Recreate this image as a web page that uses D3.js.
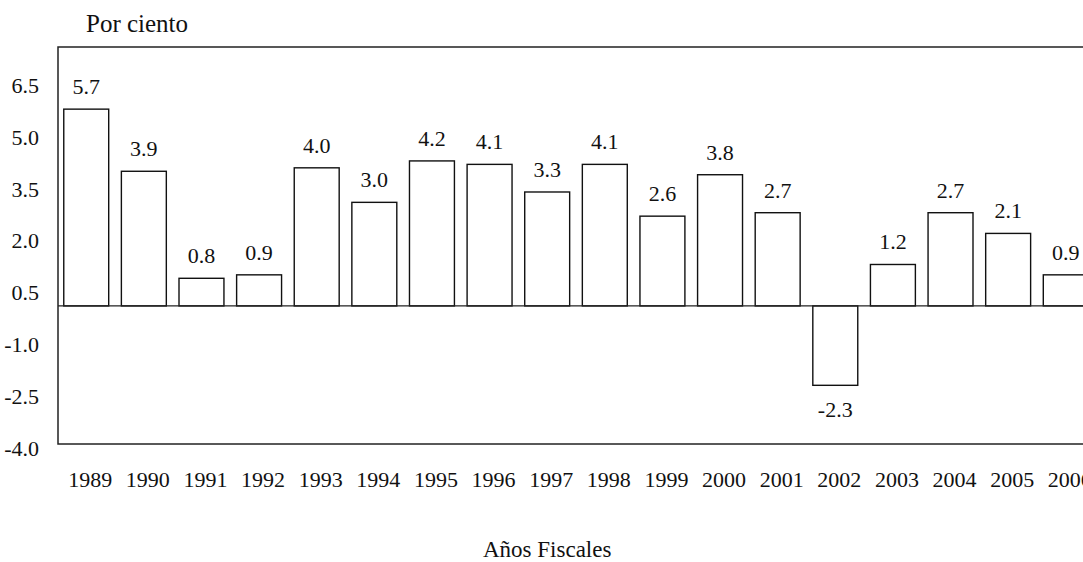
<!DOCTYPE html>
<html>
<head>
<meta charset="utf-8">
<script src="https://cdn.jsdelivr.net/npm/d3@7"></script>
<style>
  html, body { margin: 0; padding: 0; background: #fff; }
  svg text { font-family: "Liberation Serif", "DejaVu Serif", serif; fill: #111; }
</style>
</head>
<body>
<div id="chart"></div>
<script>
// data
const years = ["1989", "1990", "1991", "1992", "1993", "1994", "1995", "1996", "1997",
               "1998", "1999", "2000", "2001", "2002", "2003", "2004", "2005", "2006"];
const growth = [5.7, 3.9, 0.8, 0.9, 4.0, 3.0, 4.2, 4.1, 3.3,
                4.1, 2.6, 3.8, 2.7, -2.3, 1.2, 2.7, 2.1, 0.9];
const yTicks = [6.5, 5.0, 3.5, 2.0, 0.5, -1.0, -2.5, -4.0];

(function () {
    const width = 1083, height = 562;
    const m = { t: 47, r: -11, b: 118, l: 58 };
    const fmt = d => d.toFixed(1); // plain hyphen for negatives, as in the scan

    const svg = d3.select("#chart").append("svg").attr("width", width).attr("height", height);

    const x = d3.scaleBand().domain(years).range([m.l, width - m.r]).paddingInner(0.22).paddingOuter(0.1);
    const y = d3.scaleLinear().domain([-4, 7.5]).range([height - m.b, m.t]);

    // frame (right edge runs past the window, like the reference)
    svg.append("rect")
        .attr("x", m.l).attr("y", m.t)
        .attr("width", width - m.r - m.l).attr("height", height - m.b - m.t)
        .attr("fill", "none").attr("stroke", "#222").attr("stroke-width", 1.5);

    // y axis: labels only
    const yAxis = svg.append("g").attr("transform", `translate(${m.l - 16},0)`)
        .call(d3.axisLeft(y).tickValues(yTicks).tickFormat(fmt).tickSize(0));
    yAxis.select(".domain").remove();
    yAxis.selectAll("text").attr("font-size", 22).attr("font-family", "Liberation Serif")
        .attr("dy", "0.5em").attr("fill", "#111");

    // bars
    svg.selectAll("rect.bar")
        .data(growth).enter().append("rect").attr("class", "bar")
        .attr("x", (d, i) => x(years[i]))
        .attr("y", d => y(Math.max(0, d)))
        .attr("width", x.bandwidth())
        .attr("height", d => Math.abs(y(d) - y(0)))
        .attr("fill", "#fff").attr("stroke", "#111").attr("stroke-width", 1.4);

    // zero line
    svg.append("line")
        .attr("x1", m.l).attr("x2", width)
        .attr("y1", y(0)).attr("y2", y(0))
        .attr("stroke", "#222").attr("stroke-width", 1.4);

    // value labels
    svg.selectAll("text.val")
        .data(growth).enter().append("text").attr("class", "val")
        .attr("x", (d, i) => x(years[i]) + x.bandwidth() / 2)
        .attr("y", d => d >= 0 ? y(d) - 15 : y(d) + 32)
        .attr("text-anchor", "middle").attr("font-size", 22)
        .text(fmt);

    // x axis labels
    const xAxis = svg.append("g").attr("transform", `translate(4,${height - m.b})`)
        .call(d3.axisBottom(x).tickSize(0).tickPadding(0));
    xAxis.select(".domain").remove();
    xAxis.selectAll("text").attr("font-size", 22).attr("font-family", "Liberation Serif")
        .attr("dy", "1.95em").attr("fill", "#111");

    svg.append("text").attr("x", 86).attr("y", 32).attr("font-size", 25).text("Por ciento");
    svg.append("text").attr("x", 483).attr("y", 557)
        .attr("font-size", 23).text("Años Fiscales");
})();
</script>
</body>
</html>
